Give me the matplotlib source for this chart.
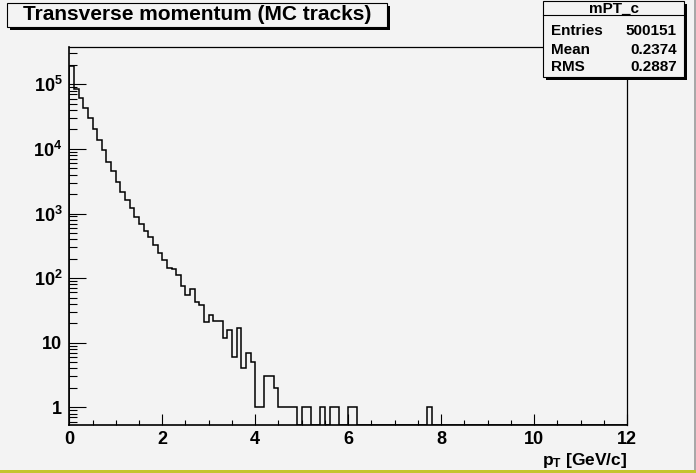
import numpy as np
import matplotlib
matplotlib.use("Agg")
import matplotlib.pyplot as plt
from matplotlib.patches import Rectangle
from matplotlib.ticker import LogLocator, NullFormatter, FuncFormatter, MultipleLocator

plt.rcParams['font.family'] = ['Liberation Sans', 'DejaVu Sans']
plt.rcParams['font.weight'] = 'bold'
plt.rcParams['mathtext.fontset'] = 'custom'
plt.rcParams['mathtext.rm'] = 'Liberation Sans:bold'
plt.rcParams['mathtext.it'] = 'Liberation Sans:bold'
plt.rcParams['mathtext.bf'] = 'Liberation Sans:bold'

# histogram mPT_c, 120 bins of 0.1 GeV/c from 0 to 12
counts = [194000, 84600, 60700, 42500, 29800, 20100, 13700, 9600, 6200, 4500,
          3040, 2130, 1620, 1200, 873, 684, 527, 428, 320, 242,
          189, 142, 137, 110, 75, 54, 67, 43, 38, 21,
          27, 22, 22, 12, 16, 6, 17, 4, 7, 5,
          1, 1, 3, 3, 2, 1, 1, 1, 1, 0,
          1, 1, 0, 0, 1, 0, 1, 1, 0, 0,
          1, 1, 0, 0, 0, 0, 0, 0, 0, 0,
          0, 0, 0, 0, 0, 0, 0, 1] + [0] * 42
x_min, x_max = 0.0, 12.0

title = "Transverse momentum (MC tracks)"
stats_name = "mPT_c"
stats_rows = [("Entries", "500151"), ("Mean", "0.2374"), ("RMS", "0.2887")]
x_ticks = [0, 2, 4, 6, 8, 10, 12]

bg = "#f3f3f3"
W, H = 696, 473

fig = plt.figure(figsize=(W / 100, H / 100), dpi=100, facecolor=bg)
ax = fig.add_axes([69.3 / W, 1 - 425 / H, (627 - 69.3) / W, (425 - 47.3) / H])
ax.set_facecolor(bg)

ymin, ymax = 0.532, 3.74e5
edges = np.linspace(x_min, x_max, len(counts) + 1)
vals = np.array(counts, dtype=float)
vals = np.where(vals > 0, vals, ymin)
ax.stairs(vals, edges, baseline=ymin, color="black", linewidth=1.1)

ax.set_yscale("log")
ax.set_xlim(x_min, x_max)
ax.set_ylim(ymin, ymax)

ax.set_xticks(x_ticks)
ax.xaxis.set_minor_locator(MultipleLocator(0.5))
ax.yaxis.set_major_locator(LogLocator(base=10, numticks=10))
ax.yaxis.set_minor_locator(LogLocator(base=10, subs=np.arange(2, 10), numticks=20))
ax.yaxis.set_minor_formatter(NullFormatter())


def ylab(v, pos):
    n = int(round(np.log10(v)))
    if n == 0:
        return "1"
    if n == 1:
        return "10"
    return r"$10^{%d}$" % n


ax.yaxis.set_major_formatter(FuncFormatter(ylab))
ax.tick_params(axis="x", which="major", direction="in", length=7.7, width=0.8, pad=4.0, labelsize=13)
ax.tick_params(axis="x", which="minor", direction="in", length=3.6, width=0.8)
ax.tick_params(axis="y", which="major", direction="in", length=12.2, width=0.8, pad=5, labelsize=13)
ax.tick_params(axis="y", which="minor", direction="in", length=5.8, width=0.8)
for lbl in ax.get_xticklabels() + ax.get_yticklabels():
    lbl.set_fontweight("bold")

ax.spines["left"].set_linewidth(1.2)
ax.spines["bottom"].set_linewidth(1.2)
ax.spines["top"].set_linewidth(0.9)
ax.spines["right"].set_linewidth(0.9)


def box(x0, y0, x1, y1, **kw):
    fig.add_artist(Rectangle((x0 / W, 1 - y1 / H), (x1 - x0) / W, (y1 - y0) / H,
                             transform=fig.transFigure, **kw))


# canvas border
box(694, 0, 696, 473, facecolor="#a8a8a8", edgecolor="none")
box(0, 470, 696, 473, facecolor="#c4c42c", edgecolor="none")

# title box with shadow
box(10.3, 5.7, 389.7, 29.7, facecolor="black", edgecolor="none")
box(7.3, 2.7, 386.7, 26.7, facecolor=bg, edgecolor="black", linewidth=0.8)
fig.text(197 / W, 1 - 15 / H, title, ha="center", va="center", fontsize=15, fontweight="bold")

# stats box with shadow
box(546.3, 4, 687.3, 80, facecolor="black", edgecolor="none")
box(543.3, 1, 684.3, 77, facecolor=bg, edgecolor="black", linewidth=0.8)
fig.add_artist(plt.Line2D([543.3 / W, 684.3 / W], [1 - 15.5 / H, 1 - 15.5 / H],
                          transform=fig.transFigure, color="black", linewidth=0.8))
fig.text(613.8 / W, 1 - 12.3 / H, stats_name, ha="center", va="baseline", fontsize=11, fontweight="bold")
row_y = [31, 50, 67]
for (name, value), yy in zip(stats_rows, row_y):
    fig.text(550.7 / W, 1 - yy / H, name, ha="left", va="center", fontsize=11, fontweight="bold")
    fig.text(676.7 / W, 1 - yy / H, value, ha="right", va="center", fontsize=11, fontweight="bold")

fig.text(627 / W, 1 - 465 / H, r"$p_{T}$ [GeV/c]", ha="right", va="baseline", fontsize=12.5, fontweight="bold")

fig.savefig("out.png", dpi=100, facecolor=bg)
